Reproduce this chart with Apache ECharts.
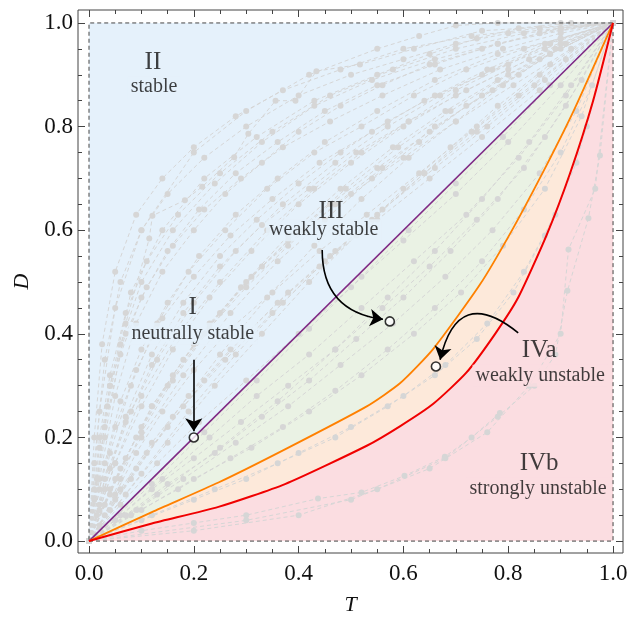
<!DOCTYPE html>
<html>
<head>
<meta charset="utf-8">
<script src="https://cdn.jsdelivr.net/npm/echarts@6/dist/echarts.min.js"></script>
<style>
html, body { margin: 0; padding: 0; background: #fff; }
#chart { width: 638px; height: 621px; }
</style>
</head>
<body>
<div id="chart"></div>
<script>
// tick positions
const majorTicks = [0, 0.2, 0.4, 0.6, 0.8, 1.0];
const minorTicks = [0.05, 0.1, 0.15, 0.25, 0.3, 0.35, 0.45, 0.5, 0.55, 0.65, 0.7, 0.75, 0.85, 0.9, 0.95];

// region boundaries (T, D)
const topEdge = [[0, 1], [1, 1]];
const diagonal = [[0, 0], [1, 1]];
const orangeCurve = [[0, 0], [0.12, 0.056], [0.247, 0.113], [0.374, 0.177], [0.53, 0.26],
    [0.594, 0.305], [0.657, 0.371], [0.746, 0.495], [0.81, 0.605], [0.873, 0.725], [0.927, 0.835], [1, 1]];
const redCurve = [[0, 0], [0.12, 0.034], [0.247, 0.066], [0.374, 0.11], [0.53, 0.184],
    [0.594, 0.222], [0.657, 0.265], [0.72, 0.325], [0.775, 0.4], [0.819, 0.47], [0.873, 0.59], [0.918, 0.71], [0.962, 0.85], [1, 1]];
const unitBox = [[0, 0], [1, 0], [1, 1], [0, 1], [0, 0]];

// background trajectories
const grayPaths = [
    [[0, 0], [0.03, 0.2], [0.07, 0.42], [0.115, 0.584], [0.121, 0.628], [0.183, 0.658], [0.216, 0.684], [0.277, 0.741], [0.304, 0.786], [0.356, 0.85], [0.394, 0.85], [0.434, 0.907], [0.517, 0.92], [0.62, 0.95], [0.75, 0.985], [1, 1]],
    [[0, 0], [0.02, 0.12], [0.05, 0.28], [0.09, 0.42], [0.14, 0.52], [0.2, 0.6], [0.26, 0.67], [0.33, 0.73], [0.4, 0.79], [0.48, 0.84], [0.56, 0.88], [0.65, 0.92], [0.75, 0.95], [0.86, 0.98], [1, 1]],
    [[0, 0], [0.03, 0.1], [0.07, 0.24], [0.12, 0.36], [0.18, 0.46], [0.25, 0.55], [0.32, 0.62], [0.4, 0.69], [0.48, 0.75], [0.57, 0.81], [0.66, 0.86], [0.76, 0.91], [0.87, 0.96], [1, 1]],
    [[0, 0], [0.04, 0.09], [0.09, 0.2], [0.15, 0.3], [0.22, 0.4], [0.3, 0.49], [0.38, 0.57], [0.47, 0.65], [0.56, 0.72], [0.66, 0.8], [0.77, 0.87], [0.88, 0.94], [1, 1]],
    [[0, 0], [0.05, 0.08], [0.11, 0.17], [0.18, 0.26], [0.26, 0.35], [0.35, 0.44], [0.44, 0.53], [0.54, 0.62], [0.64, 0.71], [0.74, 0.79], [0.85, 0.88], [1, 1]],
    [[0, 0], [0.06, 0.07], [0.13, 0.15], [0.21, 0.23], [0.3, 0.31], [0.4, 0.4], [0.5, 0.49], [0.6, 0.58], [0.7, 0.67], [0.8, 0.77], [0.9, 0.88], [1, 1]],
    [[0, 0], [0.07, 0.05], [0.15, 0.11], [0.24, 0.17], [0.33, 0.24], [0.42, 0.31], [0.51, 0.39], [0.6, 0.47], [0.69, 0.56], [0.78, 0.66], [0.87, 0.78], [0.94, 0.89], [1, 1]],
    [[0, 0], [0.08, 0.05], [0.17, 0.1], [0.27, 0.16], [0.37, 0.22], [0.47, 0.29], [0.57, 0.37], [0.66, 0.45], [0.75, 0.54], [0.83, 0.64], [0.9, 0.75], [0.96, 0.88], [1, 1]],
    [[0, 0], [0.1, 0.04], [0.2, 0.08], [0.3, 0.12], [0.4, 0.17], [0.5, 0.22], [0.6, 0.28], [0.68, 0.34], [0.76, 0.42], [0.83, 0.52], [0.89, 0.63], [0.95, 0.8], [1, 1]],
    [[0, 0], [0.1, 0.02], [0.2, 0.035], [0.3, 0.05], [0.437, 0.082], [0.52, 0.094], [0.602, 0.126], [0.679, 0.163], [0.73, 0.2], [0.784, 0.247]],
    [[0, 0], [0.2, 0.02], [0.4, 0.05], [0.55, 0.1], [0.68, 0.16], [0.78, 0.24], [0.85, 0.3], [0.89, 0.36], [0.913, 0.483], [0.953, 0.623], [0.975, 0.744], [1, 1]],
    [[0, 0], [0.3, 0.04], [0.5, 0.08], [0.65, 0.14], [0.76, 0.21], [0.84, 0.3], [0.9, 0.4], [0.915, 0.563], [0.966, 0.68], [1, 1]],
    [[0, 0], [0.01, 0.15], [0.03, 0.35], [0.06, 0.5], [0.1, 0.6], [0.15, 0.67], [0.22, 0.74], [0.3, 0.8], [0.4, 0.86], [0.5, 0.9], [0.6, 0.93], [0.7, 0.96], [0.8, 0.98], [0.9, 0.99], [1, 1]],
    [[0, 0], [0.02, 0.07], [0.04, 0.17], [0.08, 0.3], [0.13, 0.42], [0.19, 0.52], [0.26, 0.6], [0.34, 0.68], [0.43, 0.75], [0.52, 0.8], [0.62, 0.86], [0.72, 0.91], [0.83, 0.95], [1, 1]],
    [[0, 0], [0.03, 0.05], [0.06, 0.12], [0.1, 0.21], [0.16, 0.31], [0.23, 0.41], [0.3, 0.5], [0.38, 0.58], [0.46, 0.65], [0.55, 0.72], [0.65, 0.79], [0.75, 0.86], [0.86, 0.93], [1, 1]],
    [[0, 0], [0.02, 0.03], [0.05, 0.09], [0.09, 0.17], [0.14, 0.25], [0.2, 0.33], [0.27, 0.41], [0.35, 0.48], [0.44, 0.56], [0.53, 0.63], [0.63, 0.71], [0.74, 0.8], [0.86, 0.9], [1, 1]],
    [[0, 0], [0.05, 0.04], [0.12, 0.1], [0.2, 0.16], [0.29, 0.23], [0.38, 0.3], [0.47, 0.37], [0.56, 0.45], [0.65, 0.53], [0.74, 0.62], [0.83, 0.72], [0.91, 0.84], [1, 1]],
    [[0, 0], [0.02, 0.25], [0.05, 0.45], [0.1, 0.6], [0.2, 0.75], [0.3, 0.83], [0.42, 0.9], [0.55, 0.95], [0.63, 0.975], [0.7, 0.995], [0.78, 1], [0.9, 1], [1, 1]],
    [[0, 0], [0.01, 0.08], [0.03, 0.22], [0.06, 0.36], [0.1, 0.47], [0.15, 0.56], [0.21, 0.64], [0.28, 0.71], [0.36, 0.77], [0.45, 0.83], [0.55, 0.88], [0.66, 0.92], [0.78, 0.96], [0.9, 0.985], [1, 1]],
    [[0, 0], [0.02, 0.1], [0.05, 0.22], [0.09, 0.33], [0.14, 0.43], [0.2, 0.51], [0.27, 0.59], [0.35, 0.66], [0.44, 0.73], [0.54, 0.79], [0.64, 0.85], [0.75, 0.9], [0.87, 0.95], [1, 1]],
    [[0, 0], [0.015, 0.05], [0.04, 0.14], [0.08, 0.25], [0.12, 0.34], [0.18, 0.44], [0.25, 0.53], [0.33, 0.61], [0.42, 0.68], [0.51, 0.75], [0.61, 0.81], [0.72, 0.87], [0.84, 0.93], [1, 1]],
    [[0, 0], [0.03, 0.07], [0.07, 0.16], [0.12, 0.26], [0.18, 0.35], [0.25, 0.44], [0.33, 0.53], [0.41, 0.6], [0.5, 0.67], [0.6, 0.74], [0.7, 0.81], [0.81, 0.88], [0.92, 0.95], [1, 1]],
    [[0, 0], [0.04, 0.06], [0.09, 0.14], [0.15, 0.22], [0.22, 0.31], [0.3, 0.4], [0.38, 0.48], [0.47, 0.56], [0.56, 0.64], [0.66, 0.72], [0.76, 0.8], [0.87, 0.89], [1, 1]],
    [[0, 0], [0.01, 0.2], [0.025, 0.38], [0.05, 0.52], [0.09, 0.63], [0.14, 0.7], [0.2, 0.76], [0.28, 0.82], [0.37, 0.87], [0.48, 0.91], [0.6, 0.95], [0.73, 0.975], [0.86, 0.99], [1, 1]],
    [[0, 0], [0.02, 0.18], [0.04, 0.3], [0.07, 0.4], [0.11, 0.49], [0.16, 0.57], [0.22, 0.64], [0.29, 0.7], [0.37, 0.76], [0.46, 0.81], [0.56, 0.86], [0.67, 0.91], [0.79, 0.95], [0.9, 0.98], [1, 1]],
    [[0, 0], [0.05, 0.12], [0.1, 0.22], [0.16, 0.32], [0.23, 0.42], [0.31, 0.51], [0.4, 0.6], [0.49, 0.68], [0.59, 0.76], [0.69, 0.83], [0.8, 0.9], [0.9, 0.95], [1, 1]],
    [[0, 0], [0.03, 0.15], [0.06, 0.27], [0.1, 0.37], [0.15, 0.46], [0.21, 0.55], [0.28, 0.63], [0.36, 0.7], [0.45, 0.77], [0.55, 0.83], [0.66, 0.89], [0.78, 0.94], [0.9, 0.97], [1, 1]],
    [[0, 0], [0.04, 0.3], [0.08, 0.48], [0.14, 0.6], [0.22, 0.7], [0.32, 0.78], [0.43, 0.85], [0.55, 0.9], [0.65, 0.94], [0.74, 0.97], [0.82, 0.99], [0.92, 1], [1, 1]],
    [[0, 0], [0.06, 0.1], [0.12, 0.19], [0.19, 0.28], [0.27, 0.37], [0.36, 0.46], [0.45, 0.54], [0.55, 0.62], [0.65, 0.7], [0.75, 0.78], [0.86, 0.87], [1, 1]],
    [[0, 0], [0.06, 0.05], [0.14, 0.12], [0.23, 0.2], [0.32, 0.28], [0.42, 0.36], [0.52, 0.45], [0.62, 0.54], [0.72, 0.63], [0.82, 0.74], [0.91, 0.86], [1, 1]],
    [[0, 0], [0.09, 0.06], [0.18, 0.12], [0.28, 0.19], [0.38, 0.26], [0.48, 0.34], [0.58, 0.42], [0.68, 0.51], [0.77, 0.6], [0.86, 0.71], [0.93, 0.83], [1, 1]],
    [[0, 0], [0.1, 0.06], [0.2, 0.12], [0.31, 0.18], [0.42, 0.25], [0.52, 0.32], [0.62, 0.4], [0.71, 0.48], [0.79, 0.57], [0.87, 0.68], [0.94, 0.82], [1, 1]],
    [[0, 0], [0.12, 0.05], [0.24, 0.1], [0.36, 0.15], [0.47, 0.2], [0.57, 0.26], [0.66, 0.32], [0.74, 0.39], [0.81, 0.48], [0.87, 0.59], [0.93, 0.73], [1, 1]],
    [[0, 0], [0.05, 0.15], [0.1, 0.28], [0.17, 0.4], [0.25, 0.5], [0.34, 0.6], [0.43, 0.68], [0.52, 0.75], [0.61, 0.81], [0.7, 0.87], [0.8, 0.92], [0.9, 0.97], [1, 1]],
    [[0, 0], [0.04, 0.1], [0.1, 0.2], [0.18, 0.32], [0.27, 0.44], [0.36, 0.54], [0.45, 0.62], [0.54, 0.7], [0.63, 0.77], [0.72, 0.84], [0.82, 0.9], [0.91, 0.96], [1, 1]],
    [[0, 0], [0.08, 0.12], [0.16, 0.24], [0.25, 0.36], [0.34, 0.47], [0.43, 0.57], [0.52, 0.66], [0.61, 0.74], [0.7, 0.81], [0.79, 0.88], [0.88, 0.94], [1, 1]],
    [[0, 0], [0.07, 0.09], [0.15, 0.19], [0.24, 0.3], [0.33, 0.4], [0.42, 0.5], [0.51, 0.59], [0.6, 0.68], [0.69, 0.76], [0.78, 0.84], [0.88, 0.92], [1, 1]],
    [[0, 0], [0.02, 0.06], [0.05, 0.15], [0.1, 0.26], [0.16, 0.37], [0.23, 0.47], [0.31, 0.56], [0.4, 0.65], [0.5, 0.73], [0.6, 0.8], [0.7, 0.86], [0.8, 0.91], [0.9, 0.96], [1, 1]],
    [[0, 0], [0.03, 0.12], [0.07, 0.23], [0.13, 0.35], [0.2, 0.46], [0.28, 0.56], [0.37, 0.65], [0.47, 0.73], [0.57, 0.8], [0.67, 0.86], [0.77, 0.91], [0.88, 0.96], [1, 1]],
    [[0, 0], [0.1, 0.13], [0.19, 0.25], [0.28, 0.36], [0.37, 0.46], [0.46, 0.55], [0.55, 0.63], [0.64, 0.71], [0.73, 0.79], [0.82, 0.86], [0.91, 0.93], [1, 1]],
    [[0, 0], [0.01, 0.1], [0.02, 0.2], [0.04, 0.32], [0.07, 0.44], [0.11, 0.54], [0.17, 0.63], [0.25, 0.71], [0.35, 0.79], [0.46, 0.86], [0.58, 0.91], [0.7, 0.95], [0.83, 0.98], [1, 1]],
    [[0, 0], [0.12, 0.11], [0.22, 0.21], [0.32, 0.31], [0.42, 0.41], [0.52, 0.51], [0.61, 0.6], [0.7, 0.69], [0.79, 0.78], [0.88, 0.88], [1, 1]],
    [[0, 0], [0.015, 0.12], [0.035, 0.26], [0.06, 0.38], [0.1, 0.5], [0.16, 0.6], [0.24, 0.69], [0.33, 0.77], [0.43, 0.84], [0.54, 0.89], [0.66, 0.93], [0.78, 0.96], [0.9, 0.99], [1, 1]],
    [[0, 0], [0.06, 0.14], [0.12, 0.26], [0.2, 0.38], [0.29, 0.49], [0.38, 0.59], [0.48, 0.68], [0.58, 0.76], [0.68, 0.83], [0.78, 0.89], [0.89, 0.95], [1, 1]],
    [[0, 0], [0.13, 0.09], [0.25, 0.18], [0.36, 0.27], [0.47, 0.37], [0.57, 0.47], [0.66, 0.56], [0.75, 0.66], [0.84, 0.77], [0.92, 0.88], [1, 1]]
];

// marked points and arrows
const markedPoints = [[0.2, 0.2], [0.574, 0.424], [0.662, 0.337]];
const arrowI = [[0.2, 0.35], [0.2, 0.212]];
const arrowIII = [[0.445, 0.562], [0.561, 0.428]];
const arrowIVa = [[0.819, 0.402], [0.67, 0.35]];

// region labels
const romanLabels = ['II', 'III', 'I', 'IVa', 'IVb'];
const romanPos = [[0.122, 0.923], [0.462, 0.637], [0.198, 0.451], [0.859, 0.367], [0.859, 0.149]];
const nameLabels = ['stable', 'weakly stable', 'neutrally stable', 'weakly unstable', 'strongly unstable'];
const namePos = [[0.124, 0.876], [0.448, 0.6], [0.198, 0.4], [0.861, 0.319], [0.857, 0.101]];

const blue = '#e5f1fb', green = '#eaf2e4', peach = '#fde9da', pink = '#fbdde1';
const labelBg = [blue, blue, blue, pink, pink];
const serif = '"Liberation Serif", "DejaVu Serif", serif';
const grayDot = '#d6d6d6';
const ink = '#111';

function tickAxis(position, values, len) {
    return {
        type: 'value', position: position, min: -0.021, max: 1.019,
        axisLine: { show: false, onZero: false },
        splitLine: { show: false },
        axisTick: { show: true, inside: true, length: len, customValues: values, lineStyle: { color: '#444' } },
        axisLabel: { show: false }
    };
}

function areaSeries(data, color) {
    return {
        type: 'line', data: data, symbol: 'none', silent: true, z: 1,
        smooth: 0.2,
        lineStyle: { width: 0 },
        areaStyle: { color: color, opacity: 1 }
    };
}

function curveSeries(data, color, width) {
    return {
        type: 'line', data: data, symbol: 'none', silent: true, z: 6,
        smooth: 0.2,
        lineStyle: { color: color, width: width }
    };
}

const chart = echarts.init(document.getElementById('chart'));

let xMain = tickAxis('bottom', majorTicks, 7);
xMain.axisLabel = {
    show: true, customValues: majorTicks, margin: 9,
    formatter: v => v.toFixed(1),
    fontFamily: serif, fontSize: 23, color: ink
};
xMain.name = 'T';
xMain.nameLocation = 'middle';
xMain.nameGap = 41;
xMain.nameTextStyle = { fontFamily: serif, fontStyle: 'italic', fontSize: 22, color: ink };

let yMain = tickAxis('left', majorTicks, 7);
yMain.axisLabel = {
    show: true, customValues: majorTicks, margin: 5,
    formatter: v => v.toFixed(1),
    fontFamily: serif, fontSize: 23, color: ink
};
yMain.name = 'D';
yMain.nameLocation = 'middle';
yMain.nameRotate = 90;
yMain.nameGap = 42;
yMain.nameTextStyle = { fontFamily: serif, fontStyle: 'italic', fontSize: 22, color: ink };

let yAxes = [yMain, tickAxis('right', majorTicks, 7), tickAxis('left', minorTicks, 4), tickAxis('right', minorTicks, 4)];
for (let i = 0; i < yAxes.length; i++) {
    yAxes[i].min = -0.023;
    yAxes[i].max = 1.025;
}

let series = [
    areaSeries(topEdge, blue),
    areaSeries(diagonal, green),
    areaSeries(orangeCurve, peach),
    areaSeries(redCurve, pink)
];

for (let i = 0; i < grayPaths.length; i++) {
    series.push({
        type: 'line', data: grayPaths[i], silent: true, z: 2,
        symbol: 'circle', symbolSize: 6, showSymbol: true,
        lineStyle: { color: grayDot, width: 1, type: [4, 3] },
        itemStyle: { color: grayDot }
    });
}

series.push({
    type: 'line', data: unitBox, symbol: 'none', silent: true, z: 3,
    lineStyle: { color: '#444', width: 1, type: [4, 3] }
});
series.push(curveSeries(diagonal, '#7f2a85', 1.6));
series.push(curveSeries(orangeCurve, '#ff8000', 1.8));
series.push(curveSeries(redCurve, '#f00000', 2));

series.push({
    type: 'lines', coordinateSystem: 'cartesian2d', silent: true, z: 8,
    symbol: ['none', 'arrow'], symbolSize: 13,
    lineStyle: { color: '#000', width: 1.6, opacity: 1 },
    data: [
        { coords: arrowI },
        { coords: arrowIII, lineStyle: { curveness: -0.44 } },
        { coords: arrowIVa, lineStyle: { curveness: -0.8 } }
    ]
});

series.push({
    type: 'scatter', data: markedPoints, silent: true, z: 9,
    symbol: 'circle', symbolSize: 9,
    itemStyle: { color: '#fff', borderColor: '#000', borderWidth: 1.6 }
});

series.push({
    type: 'scatter', silent: true, z: 10, symbolSize: 1,
    itemStyle: { color: 'rgba(0,0,0,0)' },
    label: { show: true, position: 'inside', formatter: '{b}', fontFamily: serif, fontSize: 25, color: ink },
    data: romanLabels.map((t, i) => ({ name: t, value: romanPos[i] }))
});
series.push({
    type: 'scatter', silent: true, z: 10, symbolSize: 1,
    itemStyle: { color: 'rgba(0,0,0,0)' },
    label: { show: true, position: 'inside', formatter: '{b}', fontFamily: serif, fontSize: 20, color: ink, padding: [1, 3] },
    data: nameLabels.map((t, i) => ({ name: t, value: namePos[i], label: { backgroundColor: labelBg[i] } }))
});

chart.setOption({
    animation: false,
    backgroundColor: '#fff',
    grid: { left: 78, right: 15, top: 10, bottom: 63, show: true, borderColor: '#444', borderWidth: 1, backgroundColor: 'transparent' },
    xAxis: [xMain, tickAxis('top', majorTicks, 7), tickAxis('bottom', minorTicks, 4), tickAxis('top', minorTicks, 4)],
    yAxis: yAxes,
    series: series
});
</script>
</body>
</html>
